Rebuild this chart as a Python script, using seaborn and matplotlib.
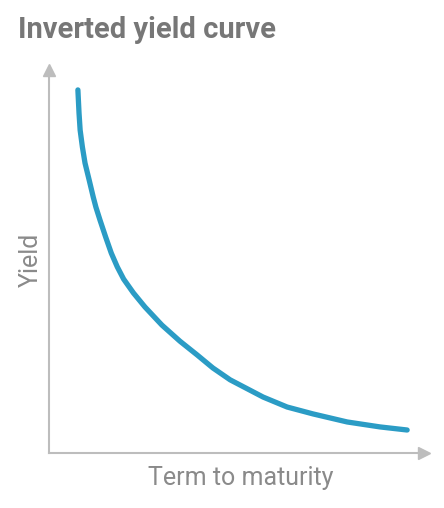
import matplotlib
matplotlib.use("Agg")
import matplotlib.pyplot as plt
import seaborn as sns
import pandas as pd

# values (arbitrary units, 0-10 scale)
term = [0.77, 0.80, 0.83, 0.89, 0.96, 1.07, 1.18, 1.25, 1.36, 1.51, 1.66, 1.82, 1.99,
        2.25, 2.56, 3.01, 3.49, 3.95, 4.37, 4.83, 5.71, 6.35, 7.04, 7.95, 8.83, 9.55]
yields = [9.48, 8.88, 8.43, 7.99, 7.57, 7.13, 6.68, 6.42, 6.08, 5.64, 5.22, 4.86, 4.54,
          4.18, 3.81, 3.34, 2.92, 2.56, 2.22, 1.91, 1.46, 1.20, 1.02, 0.81, 0.68, 0.60]

df = pd.DataFrame({"Term": term, "Yield": yields})

sns.set_style("white")
plt.rcParams["font.family"] = ["Roboto", "DejaVu Sans"]

fig = plt.figure(figsize=(4.44, 5.08), dpi=100)
ax = fig.add_axes([0.1104, 0.1083, 0.8446, 0.7539])

sns.lineplot(data=df, x="Term", y="Yield", ax=ax, color="#2b9cc5",
             linewidth=3.8, solid_capstyle="round", solid_joinstyle="round")

ax.set_xlim(0, 10)
ax.set_ylim(0, 10)
ax.set_xticks([])
ax.set_yticks([])

axis_grey = "#bdbdbd"
for side in ["top", "right"]:
    ax.spines[side].set_visible(False)
for side in ["left", "bottom"]:
    ax.spines[side].set_color(axis_grey)
    ax.spines[side].set_linewidth(1.5)

# arrow heads
ax.plot(1, 0, ">", color=axis_grey, markersize=9, transform=ax.transAxes, clip_on=False)
ax.plot(0, 1, "^", color=axis_grey, markersize=9, transform=ax.transAxes, clip_on=False)

ax.set_xlabel("Term to maturity", fontsize=18, color="#8a8a8a")
ax.xaxis.set_label_coords(0.51, -0.035)
ax.set_ylabel("Yield", fontsize=18, color="#8a8a8a")
ax.yaxis.set_label_coords(-0.016, 0.505)

fig.text(0.04, 0.925, "Inverted yield curve", fontsize=21, fontweight="bold", color="#777777")

fig.savefig("out.png", dpi=100)
